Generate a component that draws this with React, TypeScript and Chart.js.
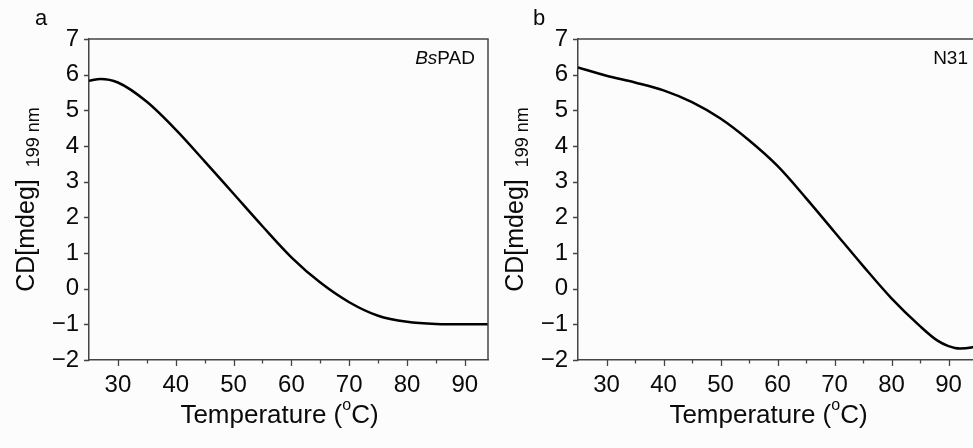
import React, { useEffect, useRef } from "react";
import { Chart, registerables } from "chart.js";

Chart.register(...registerables);

// ---- data ----
const tempsA = [25, 27, 30, 35, 40, 45, 50, 55, 60, 65, 70, 75, 80, 85, 90, 94];
const cdA = [5.83, 5.88, 5.78, 5.24, 4.46, 3.57, 2.66, 1.75, 0.88, 0.17, -0.38, -0.76, -0.93, -0.99, -1.0, -1.0];

const tempsB = [25, 30, 35, 40, 45, 50, 55, 60, 65, 70, 75, 80, 85, 88, 90, 92, 94, 95];
const cdB = [6.2, 5.97, 5.78, 5.56, 5.23, 4.77, 4.16, 3.44, 2.54, 1.59, 0.64, -0.27, -1.05, -1.45, -1.61, -1.68, -1.65, -1.6];

const xTickLabels = [30, 40, 50, 60, 70, 80, 90];
const xMinorTicks = [35, 45, 55, 65, 75, 85];
const yTickLabels = [-2, -1, 0, 1, 2, 3, 4, 5, 6, 7];

const panelLetters = ["a", "b"];
const panelTags = [
  [{ t: "Bs", italic: true }, { t: "PAD", italic: false }],
  [{ t: "N31", italic: false }],
];
const yTitleMain = "CD[mdeg]";
const yTitleSub = "199 nm";
const xTitleMain = "Temperature (";
const xTitleSup = "o";
const xTitleEnd = "C)";

const FONT = "'Liberation Sans', Arial, Helvetica, sans-serif";
const AXIS = "#444444";
const TEXT = "#0a0a0a";
const H = 448;

type PanelCfg = {
  idx: number;
  temps: number[];
  values: number[];
  xMin: number;
  xMax: number;
  canvasLeft: number;
  canvasWidth: number;
  plotLeft: number;
  plotRight: number;
  frameRight: boolean;
  tagRight: number;
  letterX: number;
};

const panels: PanelCfg[] = [
  {
    idx: 0, temps: tempsA, values: cdA, xMin: 25, xMax: 94,
    canvasLeft: 0, canvasWidth: 490, plotLeft: 89, plotRight: 488,
    frameRight: true, tagRight: 475, letterX: 35,
  },
  {
    idx: 1, temps: tempsB, values: cdB, xMin: 25, xMax: 95,
    canvasLeft: 490, canvasWidth: 500, plotLeft: 578, plotRight: 977,
    frameRight: false, tagRight: 968, letterX: 533,
  },
];

const PLOT_TOP = 39;
const PLOT_BOTTOM = 360;

function makeDecor(p: PanelCfg) {
  return {
    id: "decor" + p.idx,
    afterDraw(chart: any) {
      const ctx = chart.ctx as CanvasRenderingContext2D;
      const area = chart.chartArea;
      const xs = chart.scales.x;
      const ys = chart.scales.y;
      const off = p.canvasLeft;
      ctx.save();
      ctx.strokeStyle = AXIS;
      ctx.lineWidth = 1.5;
      ctx.beginPath();
      ctx.moveTo(area.left, area.top);
      ctx.lineTo(area.right, area.top);
      if (p.frameRight) ctx.lineTo(area.right, area.bottom);
      ctx.stroke();
      ctx.lineWidth = 1.3;
      ctx.beginPath();
      xTickLabels.forEach((v) => {
        if (v < p.xMin || v > p.xMax) return;
        const px = Math.round(xs.getPixelForValue(v)) + 0.5;
        ctx.moveTo(px, area.bottom);
        ctx.lineTo(px, area.bottom + 6);
      });
      xMinorTicks.forEach((v) => {
        if (v < p.xMin || v > p.xMax) return;
        const px = Math.round(xs.getPixelForValue(v)) + 0.5;
        ctx.moveTo(px, area.bottom);
        ctx.lineTo(px, area.bottom + 3.5);
      });
      yTickLabels.forEach((v) => {
        const py = Math.round(ys.getPixelForValue(v)) + 0.5;
        ctx.moveTo(area.left - 5, py);
        ctx.lineTo(area.left, py);
      });
      ctx.stroke();

      ctx.fillStyle = TEXT;
      ctx.font = `22px ${FONT}`;
      ctx.textAlign = "left";
      ctx.textBaseline = "alphabetic";
      ctx.fillText(panelLetters[p.idx], p.letterX - off, 25);

      const tag = panelTags[p.idx];
      const widths = tag.map((s) => {
        ctx.font = `${s.italic ? "italic " : ""}19px ${FONT}`;
        return ctx.measureText(s.t).width;
      });
      let tx = p.tagRight - off - widths.reduce((a, b) => a + b, 0);
      tag.forEach((s, i) => {
        ctx.font = `${s.italic ? "italic " : ""}19px ${FONT}`;
        ctx.fillText(s.t, tx, 64);
        tx += widths[i];
      });

      ctx.font = `26px ${FONT}`;
      const w1 = ctx.measureText(xTitleMain).width;
      const w3 = ctx.measureText(xTitleEnd).width;
      ctx.font = `16px ${FONT}`;
      const w2 = ctx.measureText(xTitleSup).width;
      const total = w1 + w2 + w3;
      const cx = (area.left + area.right) / 2 - 9;
      let sx = cx - total / 2;
      ctx.font = `26px ${FONT}`;
      ctx.fillText(xTitleMain, sx, 423);
      sx += w1;
      ctx.font = `16px ${FONT}`;
      ctx.fillText(xTitleSup, sx, 410);
      sx += w2;
      ctx.font = `26px ${FONT}`;
      ctx.fillText(xTitleEnd, sx, 423);

      ctx.font = `25px ${FONT}`;
      const m1 = ctx.measureText(yTitleMain).width;
      ctx.font = `18px ${FONT}`;
      const m2 = ctx.measureText(yTitleSub).width;
      const gap = 12;
      const ytot = m1 + gap + m2;
      const cy = (area.top + area.bottom) / 2;
      ctx.translate(area.left - 55, cy);
      ctx.rotate(-Math.PI / 2);
      ctx.font = `25px ${FONT}`;
      ctx.fillText(yTitleMain, -ytot / 2, 0);
      ctx.font = `18px ${FONT}`;
      ctx.fillText(yTitleSub, -ytot / 2 + m1 + gap, 5);
      ctx.restore();
    },
  };
}

function Panel({ p }: { p: PanelCfg }) {
  const ref = useRef<HTMLCanvasElement | null>(null);
  useEffect(() => {
    if (!ref.current) return;
    const yWidth = p.plotLeft - p.canvasLeft;
    const padRight = p.canvasLeft + p.canvasWidth - p.plotRight;
    const chart = new Chart(ref.current, {
      type: "line",
      data: {
        datasets: [
          {
            data: p.temps.map((t, i) => ({ x: t, y: p.values[i] })),
            borderColor: "#000000",
            borderWidth: 2.5,
            pointRadius: 0,
            fill: false,
            cubicInterpolationMode: "monotone",
          },
        ],
      },
      options: {
        responsive: false,
        animation: false,
        devicePixelRatio: 1,
        layout: { padding: { top: PLOT_TOP, right: padRight, left: 0, bottom: 0 } },
        plugins: { legend: { display: false }, tooltip: { enabled: false } },
        scales: {
          x: {
            type: "linear",
            min: p.xMin,
            max: p.xMax,
            afterBuildTicks: (s: any) => {
              s.ticks = xTickLabels.map((v) => ({ value: v }));
            },
            afterFit: (s: any) => {
              s.height = H - PLOT_BOTTOM;
            },
            grid: { display: false, drawTicks: false, tickLength: 0 },
            border: { display: true, color: AXIS, width: 1.5 },
            ticks: {
              color: TEXT,
              font: { family: FONT, size: 24 },
              padding: 11,
              maxRotation: 0,
              autoSkip: false,
            },
          },
          y: {
            type: "linear",
            min: -2,
            max: 7,
            afterBuildTicks: (s: any) => {
              s.ticks = yTickLabels.map((v) => ({ value: v }));
            },
            afterFit: (s: any) => {
              s.width = yWidth;
            },
            grid: { display: false, drawTicks: false, tickLength: 0 },
            border: { display: true, color: AXIS, width: 1.5 },
            ticks: {
              color: TEXT,
              font: { family: FONT, size: 24 },
              padding: 10,
              autoSkip: false,
              callback: (v: any) => String(v).replace("-", "\u2212"),
            },
          },
        },
      } as any,
      plugins: [makeDecor(p)],
    });
    return () => chart.destroy();
  }, [p]);
  return (
    <canvas
      ref={ref}
      width={p.canvasWidth}
      height={H}
      style={{
        position: "absolute",
        left: p.canvasLeft,
        top: 0,
        width: p.canvasWidth,
        height: H,
      }}
    />
  );
}

export default function App() {
  return (
    <div
      style={{
        position: "absolute",
        left: 0,
        top: 0,
        width: 973,
        height: H,
        overflow: "hidden",
        background: "#fcfcfc",
      }}
    >
      {panels.map((p) => (
        <Panel key={p.idx} p={p} />
      ))}
    </div>
  );
}
